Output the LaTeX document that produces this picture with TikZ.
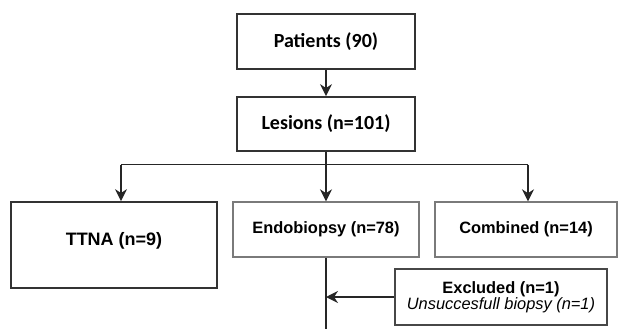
\documentclass[tikz,border=0pt]{standalone}
\usepackage{fontspec}
\setmainfont{Liberation Sans}
\newfontfamily\calfont{Carlito}
\usetikzlibrary{arrows.meta}
\definecolor{boxdark}{HTML}{333333}
\definecolor{boxgray}{HTML}{7A7A7A}
\tikzset{
    flowbox/.style={draw=boxdark, line width=1.3pt, fill=white, inner sep=2pt, align=center},
    graybox/.style={flowbox, draw=boxgray},
    flowline/.style={line width=1.1pt, draw=black!85},
    flowarrow/.style={flowline, -{Stealth[length=9pt,width=9pt]}}
}
\begin{document}
\begin{tikzpicture}[x=0.75pt, y=-0.75pt]
    \useasboundingbox (0,0) rectangle (619,329);
    % Boites du haut
    \node[flowbox, minimum width=133.5pt, minimum height=41pt] (patients) at (326,41.5)
        {\calfont\fontsize{15}{18}\selectfont\bfseries Patients (90)};
    \node[flowbox, minimum width=133.5pt, minimum height=40.5pt] (lesions) at (326,124)
        {\calfont\fontsize{15}{18}\selectfont\bfseries Lesions (n=101)};
    % Les trois groupes
    \node[flowbox, minimum width=154.5pt, minimum height=64.5pt] (ttna) at (114,245)
        {\raisebox{0pt}[0pt][0pt]{\fontsize{13.5}{16}\selectfont\bfseries TTNA (n=9)}};
    \node[graybox, minimum width=139.5pt, minimum height=41pt] (endo) at (326,229.5)
        {\fontsize{12.3}{15}\selectfont\bfseries Endobiopsy (n=78)};
    \node[graybox, minimum width=136.5pt, minimum height=41pt] (combined) at (526,229.5)
        {\fontsize{12.3}{15}\selectfont\bfseries Combined (n=14)};
    % Exclus
    \node[flowbox, draw=boxdark!90, minimum width=159pt, minimum height=42pt] (excluded) at (501,297)
        {\fontsize{12.3}{14.5}\selectfont\bfseries Excluded (n=1)\\
         \fontsize{12.3}{14.5}\selectfont\itshape Unsuccesfull biopsy (n=1)};
    % Points de branchement
    \coordinate (split) at (326,164.5);
    \coordinate (leftend) at (121,164.5);
    \coordinate (rightend) at (528,164.5);
    \coordinate (bottomend) at (326,329);
    % Connecteurs
    \draw[flowarrow] (patients) -- (lesions);
    \draw[flowline] (lesions) -- (split);
    \draw[flowline] (leftend) -- (rightend);
    \draw[flowarrow] (leftend) -- (leftend |- ttna.north);
    \draw[flowarrow] (split) -- (endo);
    \draw[flowarrow] (rightend) -- (rightend |- combined.north);
    \draw[flowline] (endo) -- (bottomend);
    \draw[flowarrow] (excluded) -- (excluded.west -| endo.south);
\end{tikzpicture}
\end{document}
